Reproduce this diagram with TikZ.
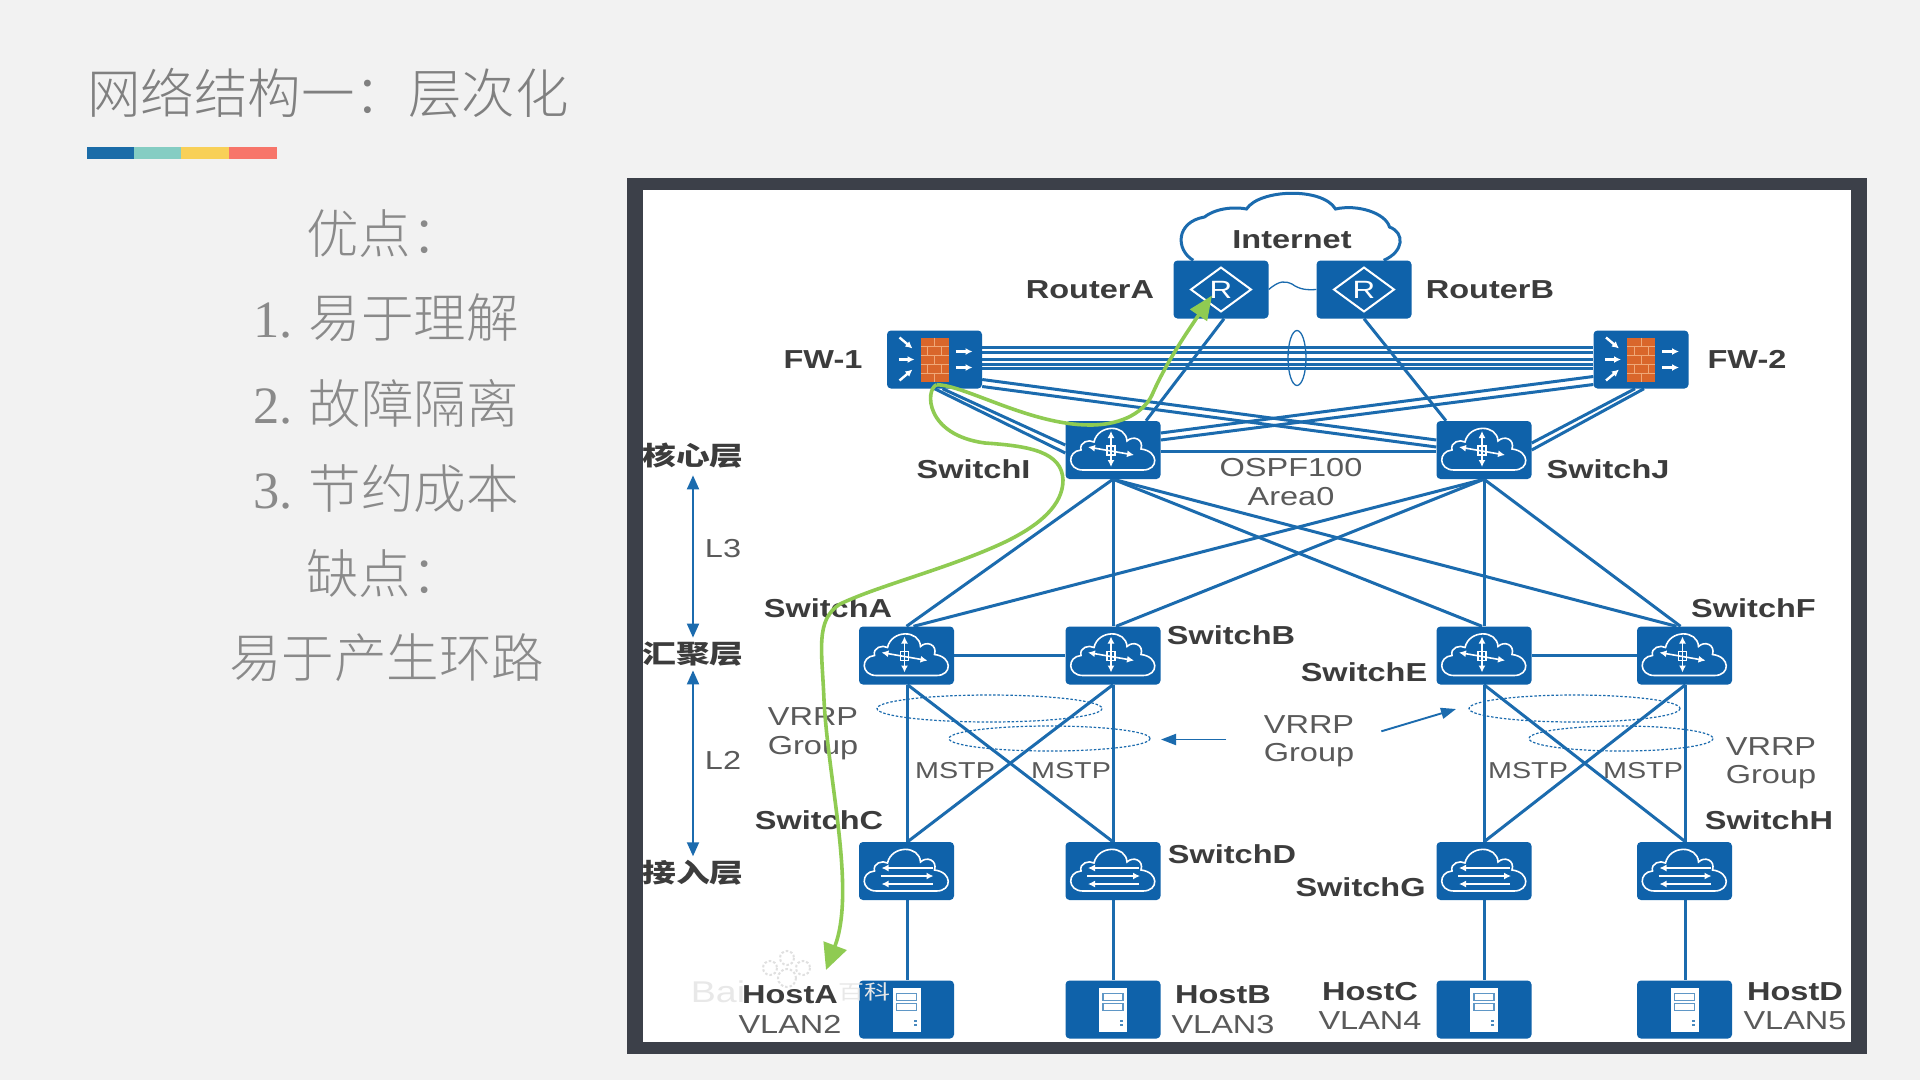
\documentclass[tikz,border=0pt]{standalone}
\usepackage{fontspec}
\usetikzlibrary{calc,arrows.meta}
\setmainfont{Liberation Sans}
\newfontfamily\labfont[FakeStretch=1.25]{Liberation Sans}
\newfontfamily\cjklab[FakeStretch=1.3]{Noto Sans CJK SC}
\newfontfamily\cjktitle{Noto Sans CJK SC Light}
\newfontfamily\numfont{Liberation Serif}
\definecolor{pagebg}{HTML}{F2F2F2}
\definecolor{framec}{HTML}{3C4049}
\definecolor{devblue}{HTML}{0F62AA}
\definecolor{linkblue}{HTML}{1B6BAE}
\definecolor{greenp}{HTML}{8FCB52}
\definecolor{brick}{HTML}{D9662B}
\definecolor{mortar}{HTML}{EFA878}
\definecolor{txtgray}{HTML}{808080}
\definecolor{bodygray}{HTML}{8A8A8A}
\definecolor{labdark}{HTML}{3C3C3C}
\definecolor{labreg}{HTML}{5A5A5A}
\pgfdeclarelayer{back}\pgfdeclarelayer{edges}\pgfdeclarelayer{front}
\pgfsetlayers{back,edges,main,front}
\tikzset{
  x=1pt,y=-1pt,
  dev/.style={fill=devblue,rounded corners=4pt,minimum width=95pt,minimum height=58pt,inner sep=0pt},
  link/.style={draw=linkblue,line width=3pt},
  trunk/.style={draw=linkblue,line width=2.6pt},
  thinlink/.style={draw=linkblue,line width=1.3pt},
  ptr/.style={draw=linkblue,fill=linkblue,line width=1.9pt},
  dashring/.style={draw=linkblue,line width=1.2pt,dash pattern=on 2.5pt off 1.8pt},
  greenpath/.style={draw=greenp,line width=3.6pt},
  bl/.style={inner sep=0pt,yshift=-.8pt,text=labdark,font=\labfont\bfseries\fontsize{26}{28}\selectfont},
  rg/.style={inner sep=0pt,yshift=-.8pt,text=labreg,font=\labfont\fontsize{26}{28}\selectfont},
  rgs/.style={inner sep=0pt,text=labreg,font=\labfont\fontsize{23}{25}\selectfont},
  cl/.style={inner sep=0pt,text=labdark,font=\cjklab\bfseries\fontsize{26}{28}\selectfont},
  bodytxt/.style={inner sep=0pt,anchor=west,text=bodygray,font=\cjktitle\fontsize{52.5}{56}\selectfont},
  iconline/.style={draw=white,line width=1.6pt},
  iconarrow/.style={draw=white,line width=1.6pt,-{Latex[length=7pt,width=7pt]}},
  cloudicon/.pic={
    \draw[iconline] (-30,20) .. controls (-46,20) and (-46,1) .. (-32,0)
      .. controls (-34,-8) and (-24,-11) .. (-19,-8)
      .. controls (-15,-26) and (13,-26) .. (14,-9)
      .. controls (20,-15) and (31,-11) .. (28,-1)
      .. controls (46,1) and (46,20) .. (30,20) -- cycle;
  },
  coreicon/.pic={
    \pic {cloudicon};
    \draw[iconarrow] (-2,1) -- (-2,-19);
    \draw[iconarrow] (-2,1) -- (-2,17);
    \draw[iconarrow] (-2,1) -- (-25,-3);
    \draw[iconarrow] (-2,1) -- (21,5);
    \draw[iconline] (-6,-4) rectangle (2,5);
  },
  accessicon/.pic={
    \pic {cloudicon};
    \draw[iconarrow] (26,-3) -- (-25,-3);
    \draw[iconarrow] (-26,5) -- (27,5);
    \draw[iconarrow] (26,13) -- (-25,13);
  },
  routericon/.pic={
    \draw[draw=white,line width=2pt] (-30,0) -- (0,-22) -- (30,0) -- (0,22) -- cycle;
    \node[inner sep=0pt,text=white,font=\labfont\fontsize{25}{27}\selectfont] at (0,0) {R};
  },
  fwicon/.pic={
    \fill[brick] (-14,-22) rectangle (14,22);
    \foreach \yy in {-13,-4,5,14}{\draw[mortar,line width=.9pt] (-14,\yy) -- (14,\yy);}
    \foreach \xx/\yy/\hh in {0/-22/9,-7/-13/9,7/-13/9,0/-4/9,-7/5/9,7/5/9,0/14/8}{\draw[mortar,line width=.7pt] (\xx,\yy) -- (\xx,\yy+\hh);}
    \draw[iconarrow,line width=2.4pt] (-35,-22) -- (-22,-11);
    \draw[iconarrow,line width=2.4pt] (-36,0) -- (-20,0);
    \draw[iconarrow,line width=2.4pt] (-35,21) -- (-22,10);
    \draw[iconarrow,line width=2.4pt] (21,-8) -- (38,-8);
    \draw[iconarrow,line width=2.4pt] (21,8) -- (38,8);
  },
  hosticon/.pic={
    \fill[white] (-14,-22) rectangle (14,22);
    \draw[draw=linkblue!70,line width=1.2pt,fill=white] (-10,-16) rectangle (10,-9);
    \draw[draw=linkblue!70,line width=1.2pt,fill=white] (-10,-6) rectangle (10,1);
    \fill[linkblue!80] (7,10) rectangle (10,12);
    \fill[linkblue!80] (7,14) rectangle (10,16);
  },
}
\begin{document}
\begin{tikzpicture}
\useasboundingbox (0,0) rectangle (1920,1080);
\begin{pgfonlayer}{back}
  \fill[pagebg] (0,0) rectangle (1920,1080);
  \fill[framec] (627,177.5) rectangle (1867,1054);
  \fill[white] (643,190) rectangle (1851,1042);
  \fill[color={rgb,255:red,27;green,108;blue,168}] (87,147) rectangle (134,159);
  \fill[color={rgb,255:red,133;green,205;blue,195}] (134,147) rectangle (181,159);
  \fill[color={rgb,255:red,248;green,208;blue,88}] (181,147) rectangle (229,159);
  \fill[color={rgb,255:red,247;green,117;blue,106}] (229,147) rectangle (277,159);
\end{pgfonlayer}

% title and body
\node[inner sep=0pt,anchor=west,text=txtgray,font=\cjktitle\fontsize{53.5}{56}\selectfont] (title) at (87,93) {网络结构一：层次化};
\node[bodytxt] (b1) at (306,234) {优点：};
\node[bodytxt] (b2) at (253,318) {{\numfont 1.}\hspace{16pt}易于理解};
\node[bodytxt] (b3) at (253,403) {{\numfont 2.}\hspace{16pt}故障隔离};
\node[bodytxt] (b4) at (253,488.5) {{\numfont 3.}\hspace{16pt}节约成本};
\node[bodytxt] (b5) at (306,573) {缺点：};
\node[bodytxt] (b6) at (229,657.5) {易于产生环路};

% devices
\node[dev] (ra) at (1221,289.5) {};
\node[dev] (rb) at (1364,289.5) {};
\node[dev] (fa) at (934.5,359.5) {};
\node[dev] (fb) at (1641,359.5) {};
\node[dev] (si) at (1113,450) {};
\node[dev] (sj) at (1484,450) {};
\node[dev] (sa) at (906.5,655.5) {};
\node[dev] (sb) at (1113,655.5) {};
\node[dev] (se) at (1484,655.5) {};
\node[dev] (sf) at (1684.5,655.5) {};
\node[dev] (sc) at (906.5,871) {};
\node[dev] (sd) at (1113,871) {};
\node[dev] (sg) at (1484,871) {};
\node[dev] (sh) at (1684.5,871) {};
\node[dev] (ha) at (906.5,1009.5) {};
\node[dev] (hb) at (1113,1009.5) {};
\node[dev] (hc) at (1484,1009.5) {};
\node[dev] (hd) at (1684.5,1009.5) {};

\pic at (ra) {routericon};
\pic at (rb) {routericon};
\pic at (fa) {fwicon};
\pic at (fb) {fwicon};
\foreach \n in {si,sj,sa,sb,se,sf}{\pic at (\n) {coreicon};}
\foreach \n in {sc,sd,sg,sh}{\pic at (\n) {accessicon};}
\foreach \n in {ha,hb,hc,hd}{\pic at (\n) {hosticon};}

% watermark
\node[inner sep=0pt,text=black!9,font=\labfont\fontsize{30}{32}\selectfont] (wm1) at (718,992) {Bai};
\node[inner sep=0pt,text=black!9,font=\cjklab\fontsize{20}{22}\selectfont] (wm2) at (864,992) {百科};

\begin{pgfonlayer}{edges}
  % internet cloud
  \coordinate (cloudL) at ($(ra.north west)+(20,0)$);
  \coordinate (cloudR) at ($(rb.north east)+(-28,0)$);
  \draw[link] (cloudL) .. controls (1175.5,250) and (1175.5,222) .. (1204.5,217)
     .. controls (1217.5,207) and (1237.5,207) .. (1246.5,209)
     .. controls (1259.5,189) and (1322.5,187) .. (1335.5,209)
     .. controls (1357.5,204) and (1385.5,213) .. (1389.5,227)
     .. controls (1405.5,233) and (1403.5,252) .. (cloudR);
  % router link
  \draw[thinlink] (ra.east) .. controls (1280,280) and (1285,281) .. (1292,284) .. controls (1300,290) and (1308,290) .. (rb.west);
  % firewall trunk
  \foreach \d in {-12,-7,0,5,9}{\draw[trunk] ($(fa.east)+(0,\d)$) -- ($(fb.west)+(0,\d)$);}
  \draw[thinlink] (1297,358) ellipse (9 and 27.5);
  % firewall to core
  \draw[link] ($(fa.south)+(0,0)$) -- ($(si.west)+(0,3)$);
  \draw[link] ($(fa.south)+(8,0)$) -- ($(si.west)+(0,-5)$);
  \draw[link] ($(fa.east)+(0,20)$) -- ($(sj.west)+(0,-10)$);
  \draw[link] ($(fa.east)+(0,27)$) -- ($(sj.west)+(0,-3)$);
  \draw[link] ($(fb.west)+(0,17)$) -- ($(si.east)+(0,-17)$);
  \draw[link] ($(fb.west)+(0,25)$) -- ($(si.east)+(0,-10)$);
  \draw[link] ($(fb.south)+(-6,0)$) -- ($(sj.east)+(0,-7)$);
  \draw[link] ($(fb.south)+(3,0)$) -- ($(sj.east)+(0,0)$);
  \draw[link] ($(ra.south)+(3,0)$) -- ($(si.north)+(33,0)$);
  \draw[link] (rb.south) -- ($(sj.north)+(-38,0)$);
  \draw[link] ($(si.east)+(0,1.5)$) -- ($(sj.west)+(0,1.5)$);
  % core to aggregation
  \draw[link] (si.south) -- (sa.north);
  \draw[link] (si.south) -- (sb.north);
  \draw[link] (si.south) -- ($(se.north)+(-2,0)$);
  \draw[link] (si.south) -- ($(sf.north)+(-8,0)$);
  \draw[link] (sj.south) -- ($(sa.north)+(7,0)$);
  \draw[link] (sj.south) -- ($(sb.north)+(3,0)$);
  \draw[link] (sj.south) -- (se.north);
  \draw[link] (sj.south) -- ($(sf.north)+(-4,0)$);
  % aggregation pairs
  \draw[link] (sa) -- (sb);
  \draw[link] (se) -- (sf);
  % aggregation to access
  \draw[link] ($(sa.south)+(1,0)$) -- ($(sc.north)+(1,0)$);
  \draw[link] ($(sa.south)+(1,0)$) -- ($(sd.north)+(0,0)$);
  \draw[link] (sb.south) -- ($(sc.north)+(1,0)$);
  \draw[link] (sb.south) -- (sd.north);
  \draw[link] (se.south) -- (sg.north);
  \draw[link] (se.south) -- ($(sh.north)+(1,0)$);
  \draw[link] ($(sf.south)+(1,0)$) -- (sg.north);
  \draw[link] ($(sf.south)+(1,0)$) -- ($(sh.north)+(1,0)$);
  % hosts
  \draw[link] ($(sc.south)+(1,0)$) -- ($(ha.north)+(1,0)$);
  \draw[link] (sd.south) -- (hb.north);
  \draw[link] (sg.south) -- (hc.north);
  \draw[link] ($(sh.south)+(1,0)$) -- ($(hd.north)+(1,0)$);
  % VRRP rings
  \draw[dashring] (989.5,708.5) ellipse (112.5 and 13.5);
  \draw[dashring] (1049.5,738.5) ellipse (100.5 and 12.5);
  \draw[dashring] (1574.5,708.5) ellipse (105.5 and 13.5);
  \draw[dashring] (1621,738.5) ellipse (92 and 12.5);
  % watermark paw
  \foreach \cx/\cy/\rr in {770/968/7,787/958/7,803/968/7,787/978/9}{\draw[black!12,line width=2pt,dash pattern=on 2.5pt off 2pt] (\cx,\cy) circle (\rr);}
\end{pgfonlayer}

% level labels and arrows
\node[cl] (lcore) at (693,455.5) {核心层};
\node[cl] (lagg) at (693,654) {汇聚层};
\node[cl] (lacc) at (693,873) {接入层};
\draw[ptr,{Triangle[length=14pt,width=12pt]}-{Triangle[length=14pt,width=12pt]}] ($(lcore.south)+(0,7)$) -- ($(lagg.north)+(0,-4)$);
\draw[ptr,{Triangle[length=14pt,width=12pt]}-{Triangle[length=14pt,width=12pt]}] ($(lagg.south)+(0,4)$) -- ($(lacc.north)+(0,-4)$);
\node[rg] (l3) at (723,548) {L3};
\node[rg] (l2) at (723,759.5) {L2};

% labels
\node[bl] (t0) at (1292,239) {Internet};
\node[bl] (t1) at (1090,289) {RouterA};
\node[bl] (t2) at (1490,289) {RouterB};
\node[bl] (t3) at (823,359) {FW-1};
\node[bl] (t4) at (1747,359) {FW-2};
\node[bl] (t5) at (973.5,468) {SwitchI};
\node[bl] (t6) at (1608,468) {SwitchJ};
\node[rg] (t7) at (1291,466.5) {OSPF100};
\node[rg] (t8) at (1291,496) {Area0};
\node[bl] (t9) at (828,607) {SwitchA};
\node[bl] (t10) at (1231,634) {SwitchB};
\node[bl] (t11) at (1364,671) {SwitchE};
\node[bl] (t12) at (1753.5,607) {SwitchF};
\node[rg] (t13) at (813,716) {VRRP};
\node[rg] (t14) at (813,747) {Group};
\node[rg] (t15) at (1309,723.5) {VRRP};
\node[rg] (t16) at (1309,754.5) {Group};
\node[rg] (t17) at (1771,745.5) {VRRP};
\node[rg] (t18) at (1771,776.5) {Group};
\node[rgs] (t19) at (955,771) {MSTP};
\node[rgs] (t20) at (1071,771) {MSTP};
\node[rgs] (t21) at (1528,771) {MSTP};
\node[rgs] (t22) at (1643,771) {MSTP};
\node[bl] (t23) at (819,819) {SwitchC};
\node[bl] (t24) at (1232,853.5) {SwitchD};
\node[bl] (t25) at (1360.5,886.5) {SwitchG};
\node[bl] (t26) at (1769,819) {SwitchH};
\node[bl] (t27) at (790,994) {HostA};
\node[rg] (t28) at (790,1024) {VLAN2};
\node[bl] (t29) at (1223,994) {HostB};
\node[rg] (t30) at (1223,1024) {VLAN3};
\node[bl] (t31) at (1370,990.5) {HostC};
\node[rg] (t32) at (1370,1020) {VLAN4};
\node[bl] (t33) at (1795,990.5) {HostD};
\node[rg] (t34) at (1795,1020) {VLAN5};

% pointer arrows
\coordinate (pa) at ($(t15.east)+(27,7)$);
\coordinate (pb) at ($(t15.west)+(-40,15)$);
\draw[ptr,-{Triangle[length=15pt,width=11pt]}] (1226,739.5) -- (1161,739.5);
\draw[ptr,-{Triangle[length=15pt,width=11pt]}] (pa) -- (1456,709);

\begin{pgfonlayer}{front}
  \coordinate (gs) at ($(fa.south)+(2,-4)$);
  \coordinate (gt) at ($(ra.center)+(-9,6)$);
  \draw[greenpath,-{Triangle[length=24pt,width=20pt]}] (gs)
    .. controls (965,385) and (1030,425) .. (1090,425)
    .. controls (1125,425) and (1145,410) .. (1152,395)
    .. controls (1165,365) and (1185,335) .. (gt);
  \draw[greenpath,-{Triangle[length=26pt,width=24pt]}] (gs)
    .. controls (925,390) and (925,435) .. (985,443)
    .. controls (1030,446) and (1062,452) .. (1063,480)
    .. controls (1063,505) and (1040,525) .. (1005,542)
    .. controls (950,568) and (880,585) .. (840,604)
    .. controls (815,620) and (822,650) .. (824,700)
    .. controls (828,780) and (856,890) .. (826,970);
\end{pgfonlayer}
\end{tikzpicture}
\end{document}
